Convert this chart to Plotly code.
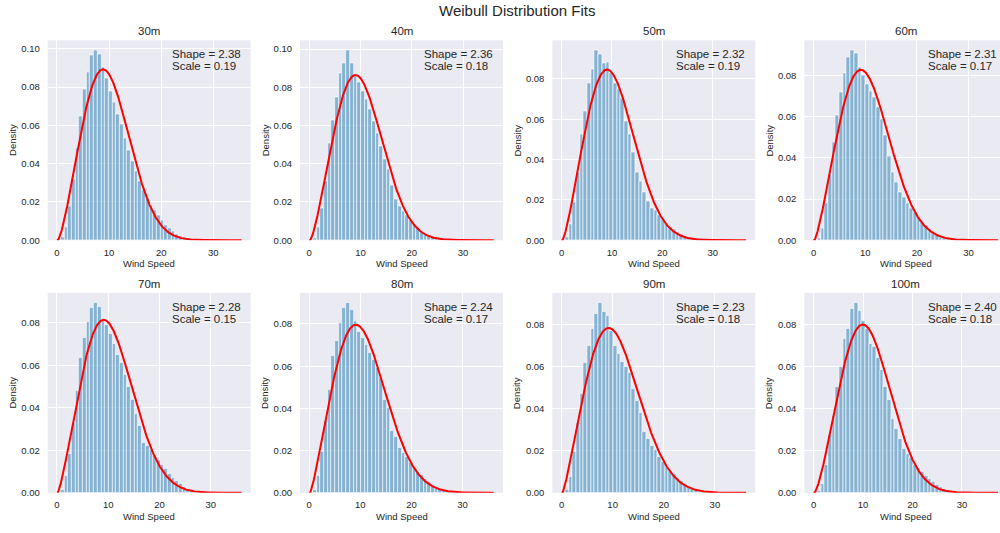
import numpy as np
import plotly.graph_objects as go

# ---------------- data ----------------
panel_labels = ["30m", "40m", "50m", "60m", "70m", "80m", "90m", "100m"]
shape_k = [2.38, 2.36, 2.32, 2.31, 2.28, 2.24, 2.23, 2.40]
shown_scale = [0.19, 0.18, 0.19, 0.17, 0.15, 0.17, 0.18, 0.18]   # value printed as "Scale" (location of fit)
fit_lambda = [10.88, 11.17, 11.26, 11.48, 11.55, 11.65, 11.80, 12.22]  # Weibull scale of the red curve
max_speed = [35.4, 36.0, 36.6, 35.7, 36.0, 36.1, 36.1, 37.3]
n_bins = 50

dens_30m = [0.0002, 0.0016, 0.0069, 0.0175, 0.0320, 0.0480, 0.0650, 0.0790, 0.0875, 0.0965,
            0.0995, 0.0970, 0.0905, 0.0845, 0.0780, 0.0720, 0.0660, 0.0605, 0.0530, 0.0470,
            0.0410, 0.0360, 0.0310, 0.0260, 0.0220, 0.0185, 0.0155, 0.0130, 0.0105, 0.0080,
            0.0060, 0.0045, 0.0032, 0.0022, 0.0015, 0.0010, 0.0007, 0.0005, 0.0003, 0.0002,
            0.0002, 0.0001, 0.0001, 0.0001, 0.0, 0.0, 0.0, 0.0, 0.0, 0.0]
dens_40m = [0.0, 0.0012, 0.0066, 0.0168, 0.0310, 0.0507, 0.0629, 0.0748, 0.0871, 0.0926,
            0.0996, 0.0926, 0.0860, 0.0826, 0.0780, 0.0736, 0.0684, 0.0623, 0.0558, 0.0490,
            0.0424, 0.0372, 0.0286, 0.0216, 0.0180, 0.0150, 0.0130, 0.0104, 0.0078, 0.0060,
            0.0043, 0.0030, 0.0020, 0.0014, 0.0010, 0.0007, 0.0005, 0.0003, 0.0002, 0.0001,
            0.0001, 0.0001, 0.0, 0.0, 0.0, 0.0, 0.0, 0.0, 0.0, 0.0]
dens_50m = [0.0, 0.0012, 0.0079, 0.0189, 0.0337, 0.0525, 0.0640, 0.0777, 0.0846, 0.0944,
            0.0920, 0.0878, 0.0880, 0.0830, 0.0777, 0.0747, 0.0703, 0.0590, 0.0525, 0.0435,
            0.0337, 0.0292, 0.0238, 0.0192, 0.0159, 0.0148, 0.0123, 0.0102, 0.0082, 0.0066,
            0.0054, 0.0041, 0.0028, 0.0020, 0.0013, 0.0008, 0.0005, 0.0003, 0.0002, 0.0001,
            0.0001, 0.0001, 0.0, 0.0, 0.0, 0.0, 0.0, 0.0, 0.0, 0.0]
dens_60m = [0.0, 0.0008, 0.0059, 0.0177, 0.0321, 0.0477, 0.0606, 0.0718, 0.0808, 0.0887,
            0.0924, 0.0908, 0.0839, 0.0800, 0.0755, 0.0723, 0.0696, 0.0647, 0.0586, 0.0509,
            0.0406, 0.0329, 0.0281, 0.0233, 0.0209, 0.0177, 0.0156, 0.0137, 0.0112, 0.0088,
            0.0072, 0.0053, 0.0035, 0.0027, 0.0016, 0.0010, 0.0006, 0.0004, 0.0003, 0.0002,
            0.0001, 0.0001, 0.0, 0.0, 0.0, 0.0, 0.0, 0.0, 0.0, 0.0]
dens_70m = [0.0, 0.0012, 0.0078, 0.0183, 0.0330, 0.0480, 0.0637, 0.0730, 0.0803, 0.0870,
            0.0896, 0.0876, 0.0820, 0.0790, 0.0750, 0.0700, 0.0650, 0.0610, 0.0555, 0.0500,
            0.0435, 0.0370, 0.0315, 0.0233, 0.0222, 0.0202, 0.0175, 0.0155, 0.0132, 0.0113,
            0.0090, 0.0071, 0.0056, 0.0040, 0.0028, 0.0018, 0.0012, 0.0008, 0.0005, 0.0003,
            0.0002, 0.0001, 0.0001, 0.0, 0.0, 0.0, 0.0, 0.0, 0.0, 0.0]
dens_80m = [0.0, 0.0012, 0.0078, 0.0195, 0.0340, 0.0488, 0.0647, 0.0719, 0.0803, 0.0874,
            0.0902, 0.0865, 0.0815, 0.0760, 0.0735, 0.0700, 0.0665, 0.0630, 0.0590, 0.0545,
            0.0440, 0.0400, 0.0295, 0.0265, 0.0215, 0.0190, 0.0170, 0.0143, 0.0120, 0.0101,
            0.0085, 0.0066, 0.0050, 0.0039, 0.0028, 0.0019, 0.0012, 0.0008, 0.0005, 0.0003,
            0.0002, 0.0001, 0.0001, 0.0, 0.0, 0.0, 0.0, 0.0, 0.0, 0.0]
dens_90m = [0.0, 0.0016, 0.0078, 0.0196, 0.0333, 0.0471, 0.0618, 0.0696, 0.0779, 0.0850,
            0.0905, 0.0858, 0.0842, 0.0772, 0.0696, 0.0659, 0.0623, 0.0600, 0.0571, 0.0493,
            0.0435, 0.0380, 0.0291, 0.0255, 0.0224, 0.0203, 0.0169, 0.0146, 0.0125, 0.0106,
            0.0091, 0.0072, 0.0055, 0.0041, 0.0028, 0.0020, 0.0013, 0.0009, 0.0006, 0.0004,
            0.0002, 0.0001, 0.0001, 0.0, 0.0, 0.0, 0.0, 0.0, 0.0, 0.0]
dens_100m = [0.0, 0.0008, 0.0044, 0.0133, 0.0273, 0.0365, 0.0505, 0.0599, 0.0733, 0.0780,
             0.0874, 0.0905, 0.0866, 0.0819, 0.0780, 0.0710, 0.0694, 0.0641, 0.0582, 0.0504,
             0.0441, 0.0351, 0.0302, 0.0255, 0.0211, 0.0185, 0.0164, 0.0133, 0.0117, 0.0101,
             0.0080, 0.0067, 0.0051, 0.0039, 0.0028, 0.0019, 0.0013, 0.0008, 0.0005, 0.0003,
             0.0002, 0.0001, 0.0001, 0.0, 0.0, 0.0, 0.0, 0.0, 0.0, 0.0]
densities = [dens_30m, dens_40m, dens_50m, dens_60m, dens_70m, dens_80m, dens_90m, dens_100m]

# ---------------- layout geometry (pixels) ----------------
W, H = 1000, 533
col_left = [47.7, 300.0, 552.3, 804.3]
row_top = [40.7, 295.7]
ax_w, ax_h = 203.0, 201.8
txt = "#262626"
font_family = "Liberation Sans, Arial, Helvetica, sans-serif"

fig = go.Figure()
layout = dict(
    width=W, height=H, margin=dict(l=0, r=0, t=0, b=0, pad=0),
    paper_bgcolor="white", plot_bgcolor="#eaeaf2", showlegend=False,
    bargap=0, font=dict(family=font_family, color=txt, size=10),
)
annotations = []


def px_x(p):
    return p / W


def px_y(p):
    return 1 - p / H


for i in range(8):
    r, c = divmod(i, 4)
    n = str(i + 1)
    xa, ya = "x" + ("" if i == 0 else n), "y" + ("" if i == 0 else n)
    R = max_speed[i]
    edges = np.linspace(0.0, R, n_bins + 1)
    centers = 0.5 * (edges[:-1] + edges[1:])
    widths = np.diff(edges)
    dens = np.array(densities[i])

    fig.add_trace(go.Bar(
        x=centers, y=dens, width=widths, xaxis=xa, yaxis=ya,
        marker=dict(color="rgba(31,119,180,0.5)", line=dict(color="rgba(255,255,255,0.9)", width=0.7)),
        hoverinfo="skip",
    ))

    k, loc, lam = shape_k[i], shown_scale[i], fit_lambda[i]
    xs = np.linspace(0.0, R, 600)
    z = np.clip((xs - loc) / lam, 0, None)
    pdf = np.where(xs > loc, (k / lam) * z ** (k - 1) * np.exp(-z ** k), 0.0)
    fig.add_trace(go.Scatter(
        x=xs, y=pdf, mode="lines", xaxis=xa, yaxis=ya,
        line=dict(color="red", width=2), hoverinfo="skip",
    ))

    x0 = col_left[c]
    x1 = min(x0 + ax_w, W)
    vis = (x1 - x0) / ax_w
    top = row_top[r]
    bot = top + ax_h
    lo = -0.05 * R
    hi = lo + 1.1 * R * vis
    ymax = 1.05 * max(dens.max(), pdf.max())

    key_x = "xaxis" + ("" if i == 0 else n)
    key_y = "yaxis" + ("" if i == 0 else n)
    layout[key_x] = dict(
        domain=[px_x(x0), px_x(x1)], anchor=ya, range=[lo, hi],
        tick0=0, dtick=10, showgrid=True, gridcolor="white", gridwidth=1,
        zeroline=False, showline=False, ticks="outside", ticklen=3,
        tickcolor="rgba(0,0,0,0)", tickfont=dict(size=9.5, color=txt),
    )
    layout[key_y] = dict(
        domain=[px_y(bot), px_y(top)], anchor=xa, range=[0, ymax],
        tick0=0, dtick=0.02, tickformat=".2f", showgrid=True, gridcolor="white",
        gridwidth=1, zeroline=False, showline=False, ticks="outside", ticklen=5,
        tickcolor="rgba(0,0,0,0)", tickfont=dict(size=9.5, color=txt),
    )

    cx = x0 + ax_w / 2
    annotations.append(dict(text=panel_labels[i], x=px_x(cx), y=px_y(top - 9),
                            xref="paper", yref="paper", showarrow=False,
                            xanchor="center", yanchor="middle",
                            font=dict(size=11.5, color=txt)))
    tx = x0 + 0.6 * ax_w
    annotations.append(dict(text=f"Shape = {k:.2f}", x=px_x(tx), y=px_y(top + 14.3),
                            xref="paper", yref="paper", showarrow=False,
                            xanchor="left", yanchor="middle",
                            font=dict(size=11.5, color=txt)))
    annotations.append(dict(text=f"Scale = {loc:.2f}", x=px_x(tx), y=px_y(top + 26.0),
                            xref="paper", yref="paper", showarrow=False,
                            xanchor="left", yanchor="middle",
                            font=dict(size=11.5, color=txt)))
    annotations.append(dict(text="Density", x=px_x(x0 - 35), y=px_y(top + ax_h / 2),
                            xref="paper", yref="paper", showarrow=False, textangle=-90,
                            xanchor="center", yanchor="middle",
                            font=dict(size=9.5, color=txt)))
    annotations.append(dict(text="Wind Speed", x=px_x(cx), y=px_y(bot + 23.5),
                            xref="paper", yref="paper", showarrow=False,
                            xanchor="center", yanchor="middle",
                            font=dict(size=9.5, color=txt)))

annotations.append(dict(text="Weibull Distribution Fits", x=px_x(516.7), y=px_y(10.5),
                        xref="paper", yref="paper", showarrow=False,
                        xanchor="center", yanchor="middle",
                        font=dict(size=15, color=txt)))
layout["annotations"] = annotations
fig.update_layout(**layout)
fig.write_html("out.html")
